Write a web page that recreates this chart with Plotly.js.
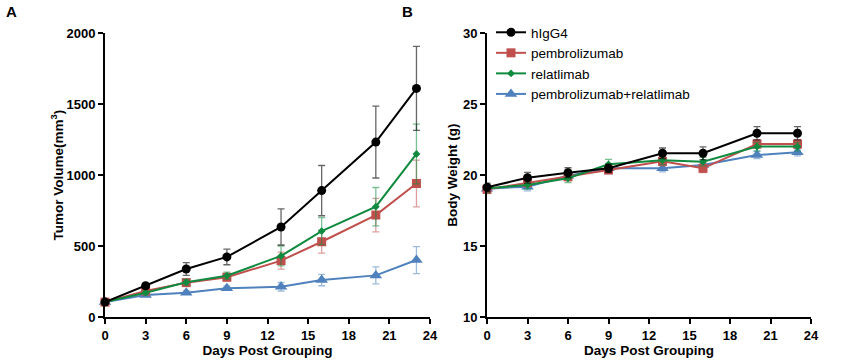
<!DOCTYPE html>
<html><head><meta charset="utf-8">
<script src="https://cdn.plot.ly/plotly-3.0.1.min.js"></script>
<style>body{margin:0;background:#fff}#c{width:846px;height:362px}</style>
</head><body><div id="c"></div>
<script>
const days = [0, 3, 6, 9, 13, 16, 20, 23];
const seriesNames = ['hIgG4', 'pembrolizumab', 'relatlimab', 'pembrolizumab+relatlimab'];

// Panel A: tumor volume (mm^3)
const tvIgG4 = [105, 220, 338, 423, 634, 890, 1232, 1610];
const tvIgG4Err = [10, 15, 45, 55, 127, 177, 253, 296];
const tvPembro = [105, 183, 242, 280, 397, 530, 718, 940];
const tvPembroErr = [8, 12, 20, 25, 60, 80, 118, 165];
const tvRela = [105, 171, 245, 291, 430, 605, 777, 1148];
const tvRelaErr = [8, 12, 20, 25, 70, 95, 135, 210];
const tvCombo = [105, 155, 171, 202, 213, 260, 293, 401];
const tvComboErr = [8, 10, 12, 15, 30, 40, 60, 95];

// Panel B: body weight (g)
const bwIgG4 = [19.13, 19.81, 20.16, 20.47, 21.53, 21.53, 22.94, 22.94];
const bwIgG4Err = [0.3, 0.38, 0.35, 0.3, 0.37, 0.45, 0.47, 0.47];
const bwPembro = [18.99, 19.46, 19.88, 20.35, 20.96, 20.47, 22.18, 22.18];
const bwPembroErr = [0.3, 0.3, 0.3, 0.25, 0.3, 0.3, 0.3, 0.3];
const bwRela = [19.06, 19.30, 19.77, 20.75, 21.03, 20.94, 22.0, 22.0];
const bwRelaErr = [0.3, 0.3, 0.3, 0.35, 0.3, 0.3, 0.3, 0.3];
const bwCombo = [19.04, 19.18, 19.95, 20.47, 20.47, 20.70, 21.41, 21.60];
const bwComboErr = [0.3, 0.3, 0.3, 0.25, 0.25, 0.25, 0.25, 0.25];

const colors = ['#000000', '#c0504d', '#0f8a3e', '#4f81bd'];
const errColors = ['rgba(0,0,0,0.6)', 'rgba(192,80,77,0.55)', 'rgba(15,138,62,0.55)', 'rgba(79,129,189,0.55)'];
const symbols = ['circle', 'square', 'diamond', 'triangle-up'];
const sizes = [9, 9, 6, 11];

const tv = [tvIgG4, tvPembro, tvRela, tvCombo];
const tvE = [tvIgG4Err, tvPembroErr, tvRelaErr, tvComboErr];
const bw = [bwIgG4, bwPembro, bwRela, bwCombo];
const bwE = [bwIgG4Err, bwPembroErr, bwRelaErr, bwComboErr];

const traces = [];
const order = [3, 1, 2, 0];
order.forEach(i => {
  traces.push({
    x: days, y: tv[i], type: 'scatter', mode: 'lines+markers', name: seriesNames[i],
    xaxis: 'x', yaxis: 'y', showlegend: false, cliponaxis: false,
    line: {color: colors[i], width: 2},
    marker: {color: colors[i], symbol: symbols[i], size: sizes[i]},
    error_y: {type: 'data', array: tvE[i], color: errColors[i], thickness: 1.3, width: 3.5}
  });
});
order.forEach(i => {
  traces.push({
    x: days, y: bw[i], type: 'scatter', mode: 'lines+markers', name: seriesNames[i],
    xaxis: 'x2', yaxis: 'y2', showlegend: true, legendrank: i + 1, cliponaxis: false,
    line: {color: colors[i], width: 2},
    marker: {color: colors[i], symbol: symbols[i], size: sizes[i]},
    error_y: {type: 'data', array: bwE[i], color: errColors[i], thickness: 1.3, width: 3.5}
  });
});

const tickFont = {family: 'Arial, Liberation Sans, sans-serif', size: 13, color: '#000', weight: 'bold'};
const titleFont = {family: 'Arial, Liberation Sans, sans-serif', size: 13.5, color: '#000', weight: 'bold'};
const axCommon = {
  showgrid: false, zeroline: false, showline: true, linecolor: '#000', linewidth: 2,
  ticks: 'outside', ticklen: 5, tickwidth: 2, tickcolor: '#000', tickfont: tickFont, automargin: false
};
const yTop = (362 - 33) / 362, yBot = (362 - 317) / 362;

const layout = {
  width: 846, height: 362, margin: {l: 0, r: 0, t: 0, b: 0},
  paper_bgcolor: '#fff', plot_bgcolor: 'rgba(0,0,0,0)',
  showlegend: true,
  legend: {x: 491 / 846, y: 1 - 17 / 362, xanchor: 'left', yanchor: 'top',
    font: {family: 'Arial, Liberation Sans, sans-serif', size: 13.5, color: '#000'},
    bgcolor: 'rgba(0,0,0,0)', tracegroupgap: 0, itemwidth: 30},
  xaxis: Object.assign({}, axCommon, {domain: [105 / 846, 430 / 846], range: [0, 24], tickvals: [0, 3, 6, 9, 12, 15, 18, 21, 24],
    title: {text: 'Days Post Grouping', font: titleFont, standoff: 3}}),
  yaxis: Object.assign({}, axCommon, {domain: [yBot, yTop], range: [0, 2000], tickvals: [0, 500, 1000, 1500, 2000],
    title: {text: 'Tumor Volume(mm<sup>3</sup>)', font: titleFont, standoff: 0}}),
  xaxis2: Object.assign({}, axCommon, {domain: [487 / 846, 811 / 846], range: [0, 24], tickvals: [0, 3, 6, 9, 12, 15, 18, 21, 24],
    anchor: 'y2', title: {text: 'Days Post Grouping', font: titleFont, standoff: 3}}),
  yaxis2: Object.assign({}, axCommon, {domain: [yBot, yTop], range: [10, 30], tickvals: [10, 15, 20, 25, 30],
    anchor: 'x2', title: {text: 'Body Weight (g)', font: titleFont, standoff: 2}}),
  annotations: [
    {text: 'A', x: 4 / 846, y: 1 - 1 / 362, xref: 'paper', yref: 'paper', xanchor: 'left', yanchor: 'top', showarrow: false,
      font: {family: 'Arial, Liberation Sans, sans-serif', size: 15, color: '#000', weight: 'bold'}},
    {text: 'B', x: 400 / 846, y: 1 - 1 / 362, xref: 'paper', yref: 'paper', xanchor: 'left', yanchor: 'top', showarrow: false,
      font: {family: 'Arial, Liberation Sans, sans-serif', size: 15, color: '#000', weight: 'bold'}}
  ]
};
Plotly.newPlot('c', traces, layout, {displayModeBar: false, staticPlot: true});
</script></body></html>
